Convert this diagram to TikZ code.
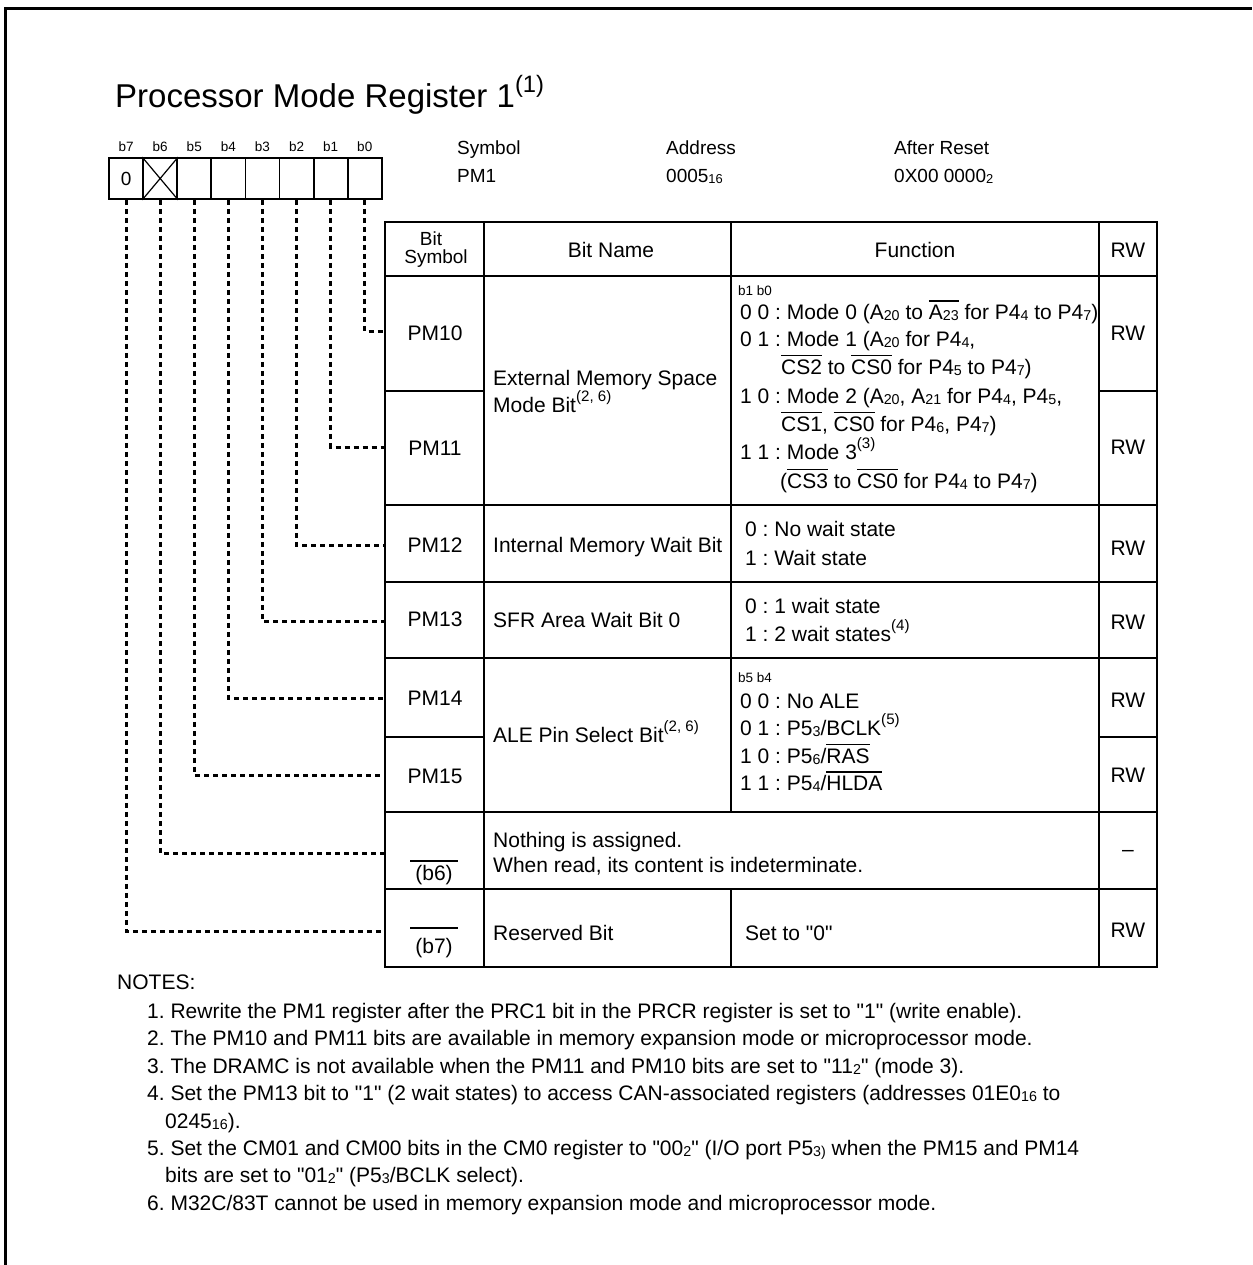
\documentclass[tikz,border=0pt]{standalone}
\usepackage{fontspec}
\setmainfont{Liberation Sans}
\usepackage{graphicx}
\newcommand\sbs[1]{\raisebox{-1pt}{\scalebox{0.68}{#1}}}
\newcommand\sps[1]{\raisebox{0.48em}{\scalebox{0.72}{(#1)}}}
\newcommand\ovl[1]{\vbox{\hrule height 1.3pt\kern 3pt\hbox{#1}}}
\newcommand\qt{\textquotedbl}
\tikzset{
  txt/.style={inner sep=0pt, anchor=base west, font=\fontsize{21}{25}\selectfont},
  ctxt/.style={txt, anchor=base},
  hdr/.style={inner sep=0pt, anchor=base west, font=\fontsize{19}{23}\selectfont},
  tiny/.style={inner sep=0pt, anchor=base, font=\fontsize{13.5}{15}\selectfont},
  note/.style={inner sep=0pt, anchor=base west, font=\fontsize{21}{25}\selectfont},
  bitcell/.style={draw, line width=1.8pt, minimum width=34.1pt, minimum height=41pt, inner sep=0pt, font=\fontsize{19}{23}\selectfont},
  dotln/.style={line width=3pt, dash pattern=on 5pt off 4pt},
  grid/.style={line width=1.8pt},
}
\begin{document}
\frenchspacing
\begin{tikzpicture}[x=1pt,y=-1pt]
    \useasboundingbox (0,0) rectangle (1252,1265);
    \draw[line width=2.7pt] (5.3,1265) -- (5.3,8.5) -- (1252,8.5);
    \node[inner sep=0pt, anchor=base west, font=\fontsize{33}{36}\selectfont] (title) at (115,108) {Processor Mode Register 1\sps{1}};
    % register bits
    \foreach \k in {0,...,6}{
      \node[bitcell] (r\k) at ({126.05+(7-\k)*34.1},178.5) {};
    }
    \node[bitcell] (r7) at (126.05,178.5) {0};
    \foreach \k in {0,...,7}{
      \node[tiny] (l\k) at ({126.05+(7-\k)*34.1},151.5) {b\k};
    }
    \draw[line width=1.2pt] (r6.north west) -- (r6.south east) (r6.south west) -- (r6.north east);
    \node[hdr] (symhd) at (457,155) {Symbol};
    \node[hdr] (symval) at (457,183) {PM1};
    \node[hdr] (addrhd) at (666,155) {Address};
    \node[hdr] (addrval) at (666,183) {0005\sbs{16}};
    \node[hdr] (rsthd) at (894,155) {After Reset};
    \node[hdr] (rstval) at (894,183) {0X00 0000\sbs{2}};
    % table
    \draw[line width=2.7pt] (385,222) rectangle (1157,967);
    \draw[grid] (385,276) -- (1157,276);
    \draw[grid] (385,391) -- (484,391) (1099,391) -- (1157,391);
    \draw[grid] (385,505) -- (1157,505);
    \draw[grid] (385,582) -- (1157,582);
    \draw[grid] (385,658) -- (1157,658);
    \draw[grid] (385,737) -- (484,737) (1099,737) -- (1157,737);
    \draw[grid] (385,812) -- (1157,812);
    \draw[grid] (385,889) -- (1157,889);
    \draw[grid] (484,222) -- (484,967);
    \draw[grid] (731,222) -- (731,812) (731,889) -- (731,967);
    \draw[grid] (1099,222) -- (1099,967);
    \node[ctxt, font=\fontsize{19}{19}\selectfont] (hbit) at (431,246) {Bit};
    \node[ctxt, font=\fontsize{19}{19}\selectfont] (hsym) at (436,263) {Symbol};
    \node[ctxt] (hname) at (611,258) {Bit Name};
    \node[ctxt] (hfunc) at (915,258) {Function};
    \node[ctxt] (hrw) at (1128,258) {RW};
    % PM10, PM11
    \node[ctxt] (s10) at (435,340) {PM10};
    \node[ctxt] (s11) at (435,455) {PM11};
    \node[txt] (n10a) at (493,385) {External Memory Space};
    \node[txt] (n10b) at (493,412) {Mode Bit\sps{2, 6}};
    \node[tiny, anchor=base west] (f10h) at (738,295) {b1 b0};
    \node[txt] (f10a) at (740,319) {0 0 : Mode 0 (A\sbs{20} to \ovl{A\sbs{23}} for P4\sbs{4} to P4\sbs{7})};
    \node[txt] (f10b) at (740,346) {0 1 : Mode 1 (A\sbs{20} for P4\sbs{4},};
    \node[txt] (f10c) at (781,374) {\ovl{CS2} to \ovl{CS0} for P4\sbs{5} to P4\sbs{7})};
    \node[txt] (f10d) at (740,403) {1 0 : Mode 2 (A\sbs{20}, A\sbs{21} for P4\sbs{4}, P4\sbs{5},};
    \node[txt] (f10e) at (781,431) {\ovl{CS1}, \ovl{CS0} for P4\sbs{6}, P4\sbs{7})};
    \node[txt] (f10f) at (740,459) {1 1 : Mode 3\sps{3}};
    \node[txt] (f10g) at (780,488) {(\ovl{CS3} to \ovl{CS0} for P4\sbs{4} to P4\sbs{7})};
    \node[ctxt] (w10) at (1128,340) {RW};
    \node[ctxt] (w11) at (1128,454) {RW};
    % PM12, PM13
    \node[ctxt] (s12) at (435,552) {PM12};
    \node[txt] (n12) at (493,552) {Internal Memory Wait Bit};
    \node[txt] (f12a) at (745,536) {0 : No wait state};
    \node[txt] (f12b) at (745,565) {1 : Wait state};
    \node[ctxt] (w12) at (1128,555) {RW};
    \node[ctxt] (s13) at (435,626) {PM13};
    \node[txt] (n13) at (493,627) {SFR Area Wait Bit 0};
    \node[txt] (f13a) at (745,613) {0 : 1 wait state};
    \node[txt] (f13b) at (745,641) {1 : 2 wait states\sps{4}};
    \node[ctxt] (w13) at (1128,629) {RW};
    % PM14, PM15
    \node[ctxt] (s14) at (435,705) {PM14};
    \node[ctxt] (s15) at (435,783) {PM15};
    \node[txt] (n14) at (493,742) {ALE Pin Select Bit\sps{2, 6}};
    \node[tiny, anchor=base west] (f14h) at (738,682) {b5 b4};
    \node[txt] (f14a) at (740,708) {0 0 : No ALE};
    \node[txt] (f14b) at (740,735) {0 1 : P5\sbs{3}/BCLK\sps{5}};
    \node[txt] (f14c) at (740,763) {1 0 : P5\sbs{6}/\ovl{RAS}};
    \node[txt] (f14d) at (740,790) {1 1 : P5\sbs{4}/\ovl{HLDA}};
    \node[ctxt] (w14) at (1128,707) {RW};
    \node[ctxt] (w15) at (1128,782) {RW};
    % b6, b7
    \draw[line width=1.5pt] (410,861) -- (458,861);
    \node[ctxt] (s6) at (434,880) {(b6)};
    \node[txt] (n6a) at (493,847) {Nothing is assigned.};
    \node[txt] (n6b) at (493,872) {When read, its content is indeterminate.};
    \node[ctxt] (w6) at (1128,856) {--};
    \draw[line width=1.5pt] (410,928) -- (458,928);
    \node[ctxt] (s7) at (434,953) {(b7)};
    \node[txt] (n7) at (493,940) {Reserved Bit};
    \node[txt] (f7) at (745,940) {Set to \qt0\qt};
    \node[ctxt] (w7) at (1128,937) {RW};
    % connectors
    \coordinate (c0) at (385,331);
    \coordinate (c1) at (385,447);
    \coordinate (c2) at (385,545);
    \coordinate (c3) at (385,621);
    \coordinate (c4) at (385,698);
    \coordinate (c5) at (385,775);
    \coordinate (c6) at (385,853);
    \coordinate (c7) at (385,931);
    \foreach \k in {0,...,7}{
      \draw[dotln] (r\k.south) |- (c\k);
    }
    % notes
    \node[note] (nhd) at (117,989) {NOTES:};
    \node[note] (nt1) at (147,1018) {1. Rewrite the PM1 register after the PRC1 bit in the PRCR register is set to \qt1\qt{} (write enable).};
    \node[note] (nt2) at (147,1045) {2. The PM10 and PM11 bits are available in memory expansion mode or microprocessor mode.};
    \node[note] (nt3) at (147,1073) {3. The DRAMC is not available when the PM11 and PM10 bits are set to \qt11\sbs{2}\qt{} (mode 3).};
    \node[note] (nt4) at (147,1100) {4. Set the PM13 bit to \qt1\qt{} (2 wait states) to access CAN-associated registers (addresses 01E0\sbs{16} to};
    \node[note] (nt4b) at (165,1128) {0245\sbs{16}).};
    \node[note] (nt5) at (147,1155) {5. Set the CM01 and CM00 bits in the CM0 register to \qt00\sbs{2}\qt{} (I/O port P5\sbs{3)} when the PM15 and PM14};
    \node[note] (nt5b) at (165,1182) {bits are set to \qt01\sbs{2}\qt{} (P5\sbs{3}/BCLK select).};
    \node[note] (nt6) at (147,1210) {6. M32C/83T cannot be used in memory expansion mode and microprocessor mode.};
\end{tikzpicture}
\end{document}
